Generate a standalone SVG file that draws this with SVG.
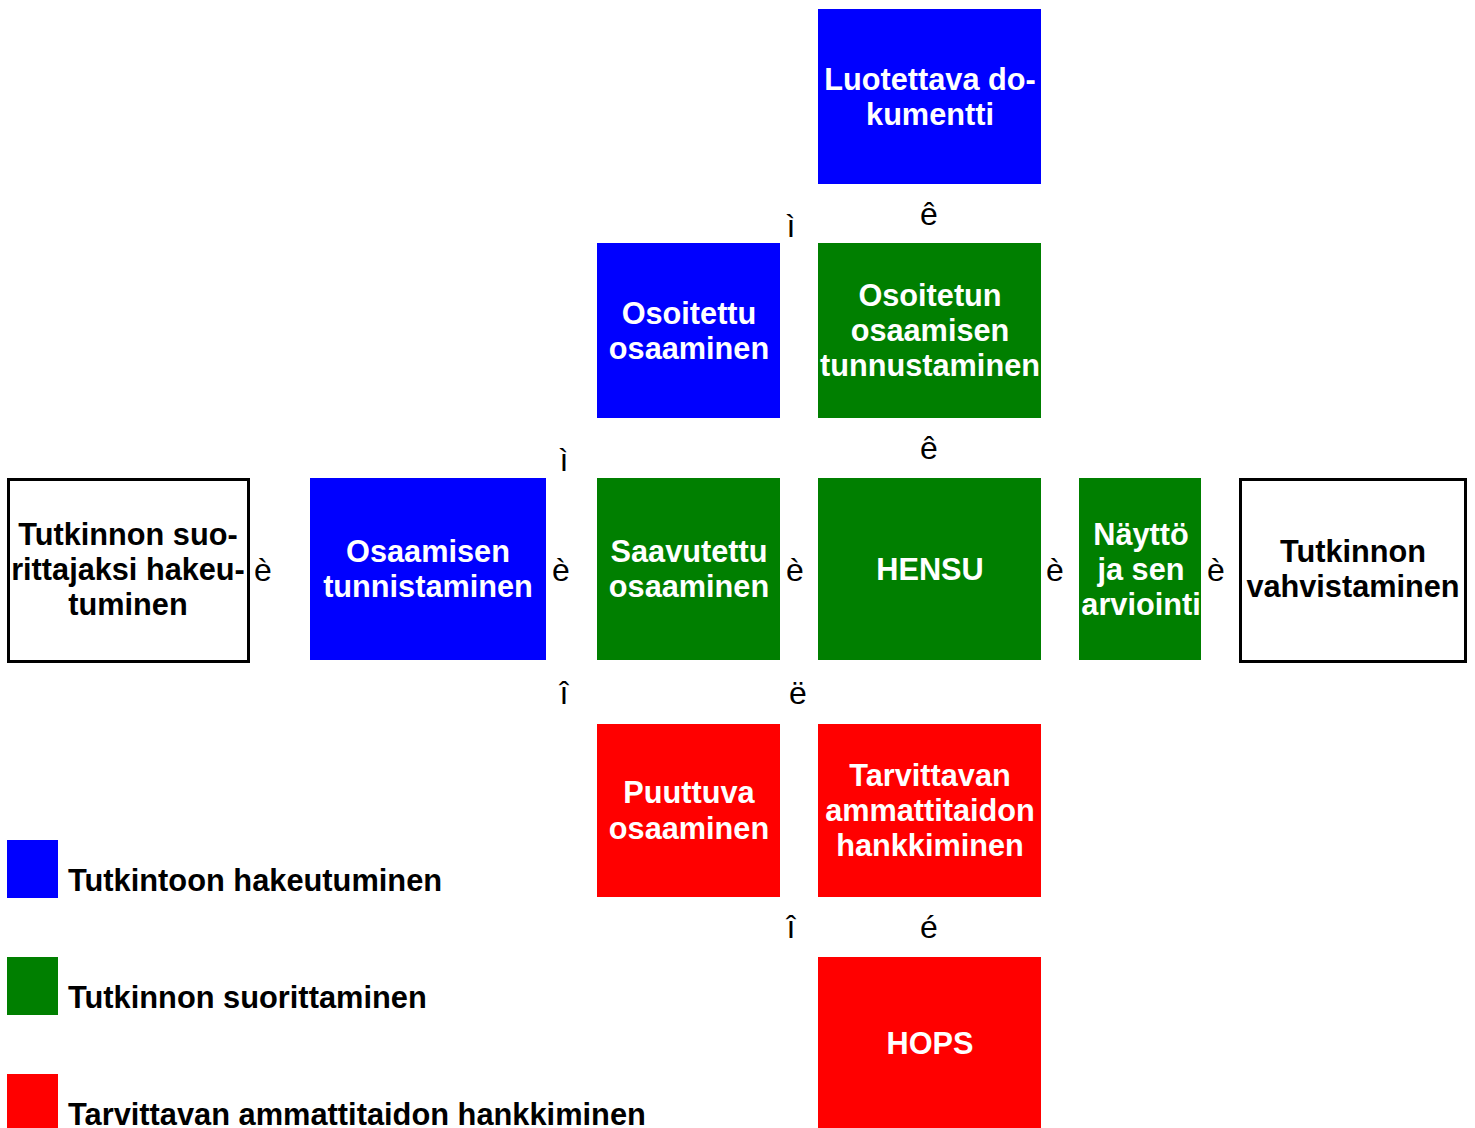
<svg xmlns="http://www.w3.org/2000/svg" width="1475" height="1128" viewBox="0 0 1475 1128">
<style>
.t{font-family:"Liberation Sans",Arial,sans-serif;font-weight:bold;font-size:30.7px;text-anchor:middle}
.w{fill:#fff}
.k{fill:#000}
.a{font-family:"Liberation Sans",Arial,sans-serif;font-size:32px;text-anchor:middle;fill:#000}
.lg{font-family:"Liberation Sans",Arial,sans-serif;font-weight:bold;font-size:30.8px;fill:#000}
.b{fill:#0000ff}
.g{fill:#007f00}
.r{fill:#ff0000}
.o{fill:#fff;stroke:#000;stroke-width:3}
</style>
<rect width="1475" height="1128" fill="#fff"/>
<g id="luotettava"><rect class="b" x="818" y="9" width="223" height="175"/><text class="t w" x="930" y="90">Luotettava do-</text><text class="t w" x="930" y="125">kumentti</text></g>
<g id="osoitettu"><rect class="b" x="597" y="243" width="183" height="175"/><text class="t w" x="689" y="324">Osoitettu</text><text class="t w" x="689" y="359">osaaminen</text></g>
<g id="osoitetun"><rect class="g" x="818" y="243" width="223" height="175"/><text class="t w" x="930" y="306">Osoitetun</text><text class="t w" x="930" y="341">osaamisen</text><text class="t w" x="930" y="376">tunnustaminen</text></g>
<g id="hakeutuminen"><rect class="o" x="8.5" y="479.5" width="240" height="182"/><text class="t k" x="128" y="545">Tutkinnon suo-</text><text class="t k" x="128" y="580">rittajaksi hakeu-</text><text class="t k" x="128" y="615">tuminen</text></g>
<g id="tunnistaminen"><rect class="b" x="310" y="478" width="236" height="182"/><text class="t w" x="428" y="562">Osaamisen</text><text class="t w" x="428" y="597">tunnistaminen</text></g>
<g id="saavutettu"><rect class="g" x="597" y="478" width="183" height="182"/><text class="t w" x="689" y="562">Saavutettu</text><text class="t w" x="689" y="597">osaaminen</text></g>
<g id="hensu"><rect class="g" x="818" y="478" width="223" height="182"/><text class="t w" x="930" y="580">HENSU</text></g>
<g id="naytto"><rect class="g" x="1079" y="478" width="122" height="182"/><text class="t w" x="1141" y="545">Näyttö</text><text class="t w" x="1141" y="580">ja sen</text><text class="t w" x="1141" y="615">arviointi</text></g>
<g id="vahvistaminen"><rect class="o" x="1240.5" y="479.5" width="225" height="182"/><text class="t k" x="1353" y="562">Tutkinnon</text><text class="t k" x="1353" y="597">vahvistaminen</text></g>
<g id="puuttuva"><rect class="r" x="597" y="724" width="183" height="173"/><text class="t w" x="689" y="803">Puuttuva</text><text class="t w" x="689" y="839">osaaminen</text></g>
<g id="tarvittavan"><rect class="r" x="818" y="724" width="223" height="173"/><text class="t w" x="930" y="786">Tarvittavan</text><text class="t w" x="930" y="821">ammattitaidon</text><text class="t w" x="930" y="856">hankkiminen</text></g>
<g id="hops"><rect class="r" x="818" y="957" width="223" height="171"/><text class="t w" x="930" y="1054">HOPS</text></g>
<g id="connectors">
<text class="a" x="929" y="225">ê</text>
<text class="a" x="791" y="237">ì</text>
<text class="a" x="929" y="459">ê</text>
<text class="a" x="564" y="471">ì</text>
<text class="a" x="263" y="581">è</text>
<text class="a" x="561" y="581">è</text>
<text class="a" x="795" y="581">è</text>
<text class="a" x="1055" y="581">è</text>
<text class="a" x="1216" y="581">è</text>
<text class="a" x="564" y="704">î</text>
<text class="a" x="798" y="704">ë</text>
<text class="a" x="791" y="938">î</text>
<text class="a" x="929" y="938">é</text>
</g>
<g id="legend">
<rect class="b" x="7" y="840" width="51" height="58"/><text class="lg" x="68" y="891">Tutkintoon hakeutuminen</text>
<rect class="g" x="7" y="957" width="51" height="58"/><text class="lg" x="68" y="1008">Tutkinnon suorittaminen</text>
<rect class="r" x="7" y="1074" width="51" height="54"/><text class="lg" x="68" y="1125">Tarvittavan ammattitaidon hankkiminen</text>
</g>
</svg>
